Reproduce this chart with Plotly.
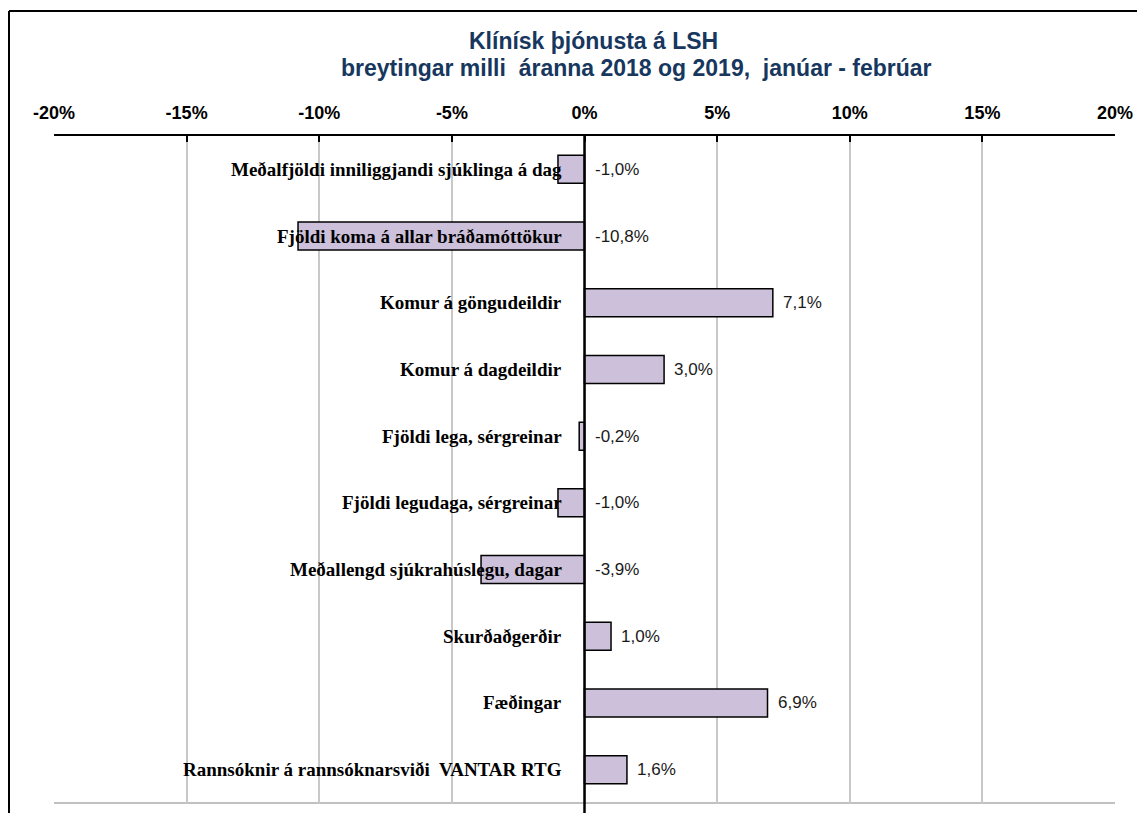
import plotly.graph_objects as go

categories = [
    "Meðalfjöldi inniliggjandi sjúklinga á dag",
    "Fjöldi koma á allar bráðamóttökur",
    "Komur á göngudeildir",
    "Komur á dagdeildir",
    "Fjöldi lega, sérgreinar",
    "Fjöldi legudaga, sérgreinar",
    "Meðallengd sjúkrahúslegu, dagar",
    "Skurðaðgerðir",
    "Fæðingar",
    "Rannsóknir á rannsóknarsviði  VANTAR RTG",
]
values = [-1.0, -10.8, 7.1, 3.0, -0.2, -1.0, -3.9, 1.0, 6.9, 1.6]
tick_vals = [-20, -15, -10, -5, 0, 5, 10, 15, 20]
tick_text = [f"{t}%" for t in tick_vals]
title_lines = ["Klínísk þjónusta á LSH",
               "breytingar milli  áranna 2018 og 2019,  janúar - febrúar"]

W, H = 1145, 813
L, R, T, B = 46, 38, 128, 18
pw, ph = W - L - R, H - T - B

fig = go.Figure()
fig.add_trace(go.Bar(
    y=categories, x=values, orientation="h", width=0.42,
    marker=dict(color="#CCC0DA", line=dict(color="black", width=1.5)),
    hoverinfo="skip",
))

# etiketter á flokkum (vinstra megin við núlllínu) og gildi (hægra megin)
for cat, v in zip(categories, values):
    fig.add_annotation(
        x=0, y=cat, xref="x", yref="y", text=f"<b>{cat}</b>",
        showarrow=False, xanchor="right", xshift=-21,
        font=dict(family="Liberation Serif", size=19, color="black"),
    )
    fig.add_annotation(
        x=max(v, 0), y=cat, xref="x", yref="y",
        text=f"{v:.1f}".replace(".", ",") + "%",
        showarrow=False, xanchor="left", xshift=8,
        font=dict(family="Liberation Sans", size=17, color="#1a1a1a"),
    )

# titill í tveimur línum
for txt, cx, cy in zip(title_lines, [585, 628], [33, 60]):
    fig.add_annotation(
        x=(cx - L) / pw, y=1 + (T - cy) / ph, xref="paper", yref="paper",
        text=f"<b>{txt}</b>", showarrow=False, xanchor="center", yanchor="middle",
        font=dict(family="Liberation Sans", size=23, color="#17375E"),
    )

# núlllína ofan á súlunum
fig.add_shape(type="line", xref="x", yref="paper", x0=0, x1=0, y0=-0.03, y1=1,
              line=dict(color="black", width=2.5), layer="above")
# neðri lína teiknisvæðis
fig.add_shape(type="line", xref="paper", yref="paper", x0=0, x1=1, y0=0, y1=0,
              line=dict(color="#C0C0C0", width=2), layer="below")
# rammi utan um myndina (vinstri og efri brún)
bx = -(L - 1) / pw
by = 1 + (T - 3) / ph
fig.add_shape(type="line", xref="paper", yref="paper", x0=bx, x1=bx, y0=-0.05, y1=by,
              line=dict(color="black", width=2))
fig.add_shape(type="line", xref="paper", yref="paper", x0=bx, x1=1.1, y0=by, y1=by,
              line=dict(color="black", width=2))

fig.update_layout(
    width=W, height=H,
    margin=dict(l=L, r=R, t=T, b=B, autoexpand=False),
    paper_bgcolor="white", plot_bgcolor="white",
    showlegend=False,
    xaxis=dict(
        range=[-20, 20], side="top", tickvals=tick_vals, ticktext=tick_text,
        showgrid=True, gridcolor="#C8C8C8", gridwidth=1.5, zeroline=False,
        showline=True, linecolor="black", linewidth=2,
        ticks="inside", ticklen=6, tickcolor="black", tickwidth=1.5,
        ticklabelstandoff=8, automargin=False,
        tickfont=dict(family="Liberation Sans", size=18, color="black", weight="bold"),
        fixedrange=True,
    ),
    yaxis=dict(
        autorange="reversed", showticklabels=False, showgrid=False,
        zeroline=False, showline=False, fixedrange=True, automargin=False,
    ),
)

fig.write_html("out.html")
